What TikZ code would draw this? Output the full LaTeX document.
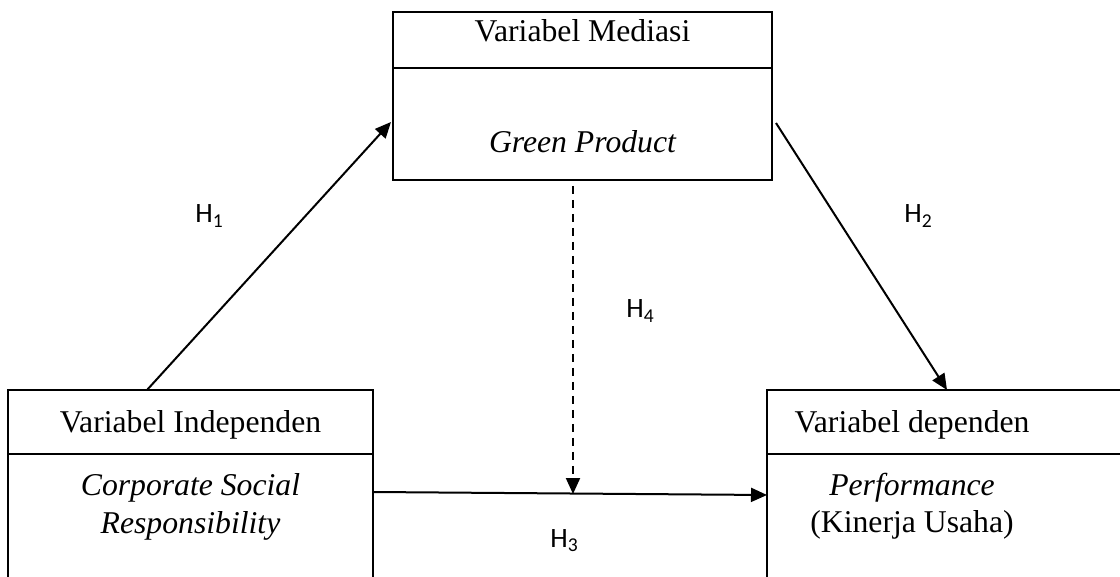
\documentclass[tikz,border=0pt]{standalone}
\usepackage{fontspec}
\setmainfont{Liberation Serif}
\newfontfamily\hfont{Carlito}
\usetikzlibrary{arrows.meta}
\tikzset{
  x=0.5pt, y=-0.5pt,
  box/.style={draw, line width=1pt, inner sep=0pt},
  divline/.style={line width=1pt},
  serif/.style={font=\fontsize{15.85}{20}\selectfont, inner sep=0pt, anchor=base},
  hlab/.style={font=\hfont\fontsize{14}{16}\selectfont, inner sep=0pt, anchor=base west},
  arr/.style={line width=1pt, -{Triangle[length=8pt,width=7pt]}},
  darr/.style={arr, dash pattern=on 4pt off 3pt}
}
\begin{document}
\begin{tikzpicture}
\useasboundingbox (0,0) rectangle (1120,577);
\clip (0,0) rectangle (1120,577);
% boxes
\node[box, minimum width=189.5pt, minimum height=84pt] (med) at (582.5,96) {};
\node[box, minimum width=182.5pt, minimum height=110pt] (ind) at (190.5,500) {};
\node[box, minimum width=190pt, minimum height=110pt] (dep) at (957,500) {};
% dividers
\draw[divline] (393,68) -- (772,68);
\draw[divline] (8,454) -- (373,454);
\draw[divline] (767,454) -- (1147,454);
% texts
\node[serif] (t1) at (582.5,42) {Variabel Mediasi};
\node[serif] (t2) at (582.5,153) {\itshape Green Product};
\node[serif] (t3) at (190.5,432) {Variabel Independen};
\node[serif] (t4) at (190.5,495) {\itshape Corporate Social};
\node[serif] (t5) at (190.5,533) {\itshape Responsibility};
\node[serif] (t6) at (912,432) {Variabel dependen};
\node[serif] (t7) at (912,495) {\itshape Performance};
\node[serif] (t8) at (912,532) {(Kinerja Usaha)};
% connector end points
\coordinate (h1a) at (147,390);
\coordinate (h1b) at (391,122);
\coordinate (h2a) at (776,123);
\coordinate (h2b) at (947,390);
\coordinate (h3a) at (373,492);
\coordinate (h3b) at (767,495);
\coordinate (h4a) at (573,186);
\coordinate (h4b) at (573,494);
% connectors
\draw[arr] (h1a) -- (h1b);
\draw[arr] (h2a) -- (h2b);
\draw[arr] (h3a) -- (h3b);
\draw[darr] (h4a) -- (h4b);
% labels
\node[hlab] (l1) at (195,223) {H\textsubscript{1}};
\node[hlab] (l2) at (904,223) {H\textsubscript{2}};
\node[hlab] (l4) at (626,318) {H\textsubscript{4}};
\node[hlab] (l3) at (550,547) {H\textsubscript{3}};
\end{tikzpicture}
\end{document}
